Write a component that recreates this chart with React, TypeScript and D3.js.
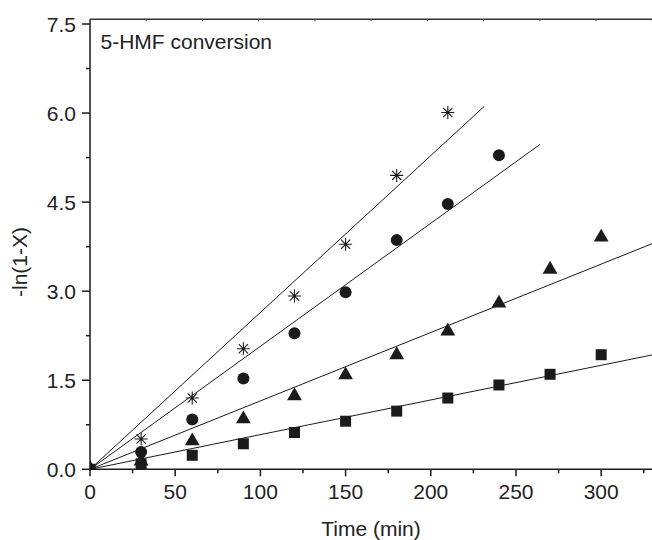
import React from "react";
import * as d3 from "d3";

const times = [0, 30, 60, 90, 120, 150, 180, 210, 240, 270, 300];
const starValues = [0, 0.51, 1.2, 2.03, 2.92, 3.79, 4.95, 6.01];
const circleValues = [0, 0.29, 0.84, 1.53, 2.29, 2.98, 3.86, 4.47, 5.29];
const triangleValues = [0, 0.12, 0.46, 0.83, 1.22, 1.57, 1.91, 2.31, 2.78, 3.35, 3.89];
const squareValues = [0, 0.09, 0.236, 0.43, 0.62, 0.81, 0.98, 1.2, 1.42, 1.6, 1.93];
const fitSlopes = [0.02642, 0.02072, 0.01152, 0.00584];
const fitEnds = [231.3, 264.1, 330, 330];
const xTicks = [0, 50, 100, 150, 200, 250, 300];
const yTicks = [0, 1.5, 3.0, 4.5, 6.0, 7.5];

const W = 652, H = 540;
const L = 90, R = 652.3, T = 19.3, B = 469.3;
const FONT = "'Liberation Sans', Arial, sans-serif";

export default function App() {
  const x = d3.scaleLinear().domain([0, 330]).range([L, R]);
  const y = d3.scaleLinear().domain([0, 7.5]).range([B, 24]);
  const yTop = y.invert(T);
  const xMinor = d3.range(25, 330, 50);
  const yMinor = d3.range(0.75, yTop, 1.5);
  const xTopTicks = d3.range(0, 331, 33);
  const col = "#1b1b1b";
  const line = d3.line<[number, number]>().x(d => x(d[0])).y(d => y(d[1]));

  const star = (cx: number, cy: number, k: number) => {
    const r = 6.5;
    const segs = [0, 45, 90, 135].map(a => {
      const rad = (a * Math.PI) / 180;
      const dx = r * Math.cos(rad), dy = r * Math.sin(rad);
      return `M${cx - dx},${cy - dy}L${cx + dx},${cy + dy}`;
    });
    return <path key={k} d={segs.join("")} stroke={col} strokeWidth={1.1} fill="none" />;
  };
  const sym = d3.symbol();

  return (
    <div style={{ position: "absolute", left: 0, top: 0 }}>
      <svg width={W} height={H} style={{ display: "block", background: "#fff" }}>
        <defs>
          <clipPath id="plot">
            <rect x={L} y={T} width={R - L} height={B - T} />
          </clipPath>
        </defs>
        <g clipPath="url(#plot)">
          {fitSlopes.map((s, i) => (
            <path key={i} d={line([[0, 0], [fitEnds[i], s * fitEnds[i]]]) || ""} stroke={col} strokeWidth={1} fill="none" />
          ))}
          {squareValues.map((v, i) => (
            <rect key={"s" + i} x={x(times[i]) - 5.5} y={y(v) - 5.5} width={11} height={11} fill={col} />
          ))}
          {triangleValues.map((v, i) => (
            <path key={"t" + i} d={sym.type(d3.symbolTriangle).size(95)() || ""} transform={`translate(${x(times[i])},${y(v) - 1})`} fill={col} />
          ))}
          {circleValues.map((v, i) => (
            <circle key={"c" + i} cx={x(times[i])} cy={y(v)} r={6} fill={col} />
          ))}
          {starValues.map((v, i) => star(x(times[i]), y(v), i))}
        </g>
        {/* frame */}
        <line x1={L} y1={T} x2={R} y2={T} stroke="#333" strokeWidth={1.5} />
        <line x1={L} y1={T} x2={L} y2={B} stroke={col} strokeWidth={1.5} />
        <line x1={L - 0.75} y1={B} x2={R} y2={B} stroke={col} strokeWidth={1.5} />
        {xTopTicks.map((t, i) => (
          <line key={"tt" + i} x1={x(t)} y1={T} x2={x(t)} y2={T + 2} stroke="#555" strokeWidth={1} />
        ))}
        {xTicks.map((t, i) => (
          <g key={"xt" + i}>
            <line x1={x(t)} y1={B} x2={x(t)} y2={B + 7} stroke={col} strokeWidth={1.5} />
            <text x={x(t)} y={B + 29.5} textAnchor="middle" fontFamily={FONT} fontSize={21} fill="#222">{t}</text>
          </g>
        ))}
        {xMinor.map((t, i) => (
          <line key={"xm" + i} x1={x(t)} y1={B} x2={x(t)} y2={B + 4} stroke={col} strokeWidth={1.5} />
        ))}
        {yTicks.map((t, i) => (
          <g key={"yt" + i}>
            <line x1={L} y1={y(t)} x2={L - 8} y2={y(t)} stroke={col} strokeWidth={1.5} />
            <text x={L - 14} y={y(t) + 7.5} textAnchor="end" fontFamily={FONT} fontSize={21} fill="#222">{t.toFixed(1)}</text>
          </g>
        ))}
        {yMinor.map((t, i) => (
          <line key={"ym" + i} x1={L} y1={y(t)} x2={L - 4} y2={y(t)} stroke={col} strokeWidth={1.5} />
        ))}
        <text x={371} y={536} textAnchor="middle" fontFamily={FONT} fontSize={21} fill="#222">Time (min)</text>
        <text transform="translate(27,262) rotate(-90)" textAnchor="middle" fontFamily={FONT} fontSize={21} fill="#222">-ln(1-X)</text>
        <text x={100.5} y={49} fontFamily={FONT} fontSize={21} fill="#222">5-HMF conversion</text>
      </svg>
    </div>
  );
}
